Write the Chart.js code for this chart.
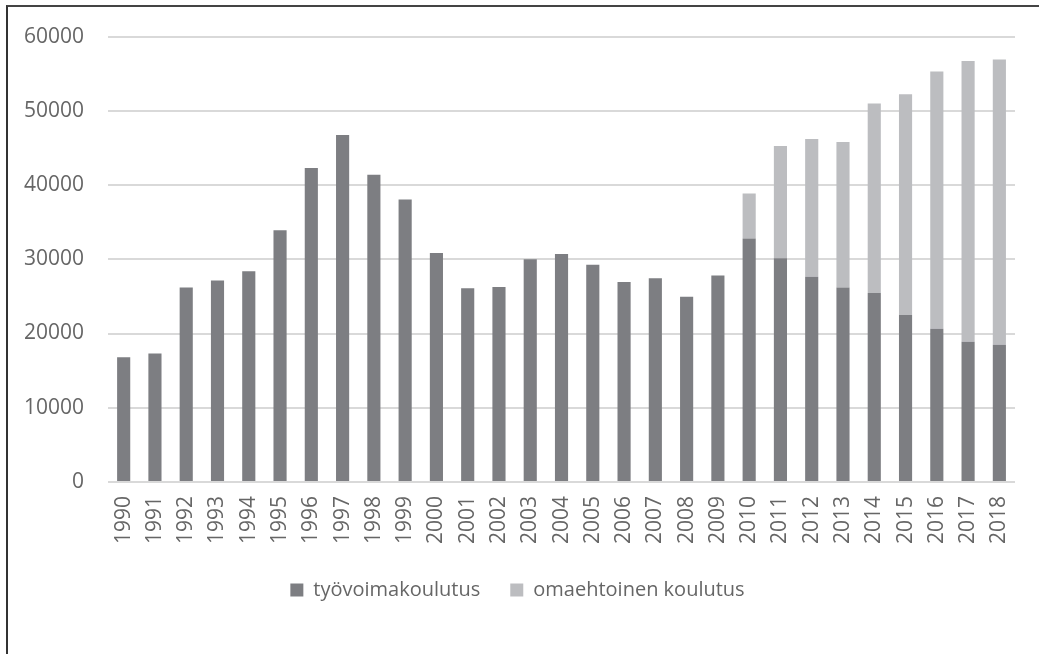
<!DOCTYPE html>
<html>
<head>
<meta charset="utf-8">
<script src="https://cdn.jsdelivr.net/npm/chart.js@4/dist/chart.umd.min.js"></script>
<style>
  body { margin: 0; background: #fff; }
  #frame {
    position: absolute; left: 6px; top: 5px; width: 1033px; height: 649px;
    border-top: 2px solid #444; border-left: 2px solid #333;
  }
  #myChart { position: absolute; left: 0; top: 0; }
</style>
</head>
<body>
<div id="frame"></div>
<canvas id="myChart" width="1039" height="654"></canvas>
<script>
/* vuodet */
const vuodet = ['1990', '1991', '1992', '1993', '1994', '1995', '1996', '1997', '1998', '1999',
  '2000', '2001', '2002', '2003', '2004', '2005', '2006', '2007', '2008', '2009',
  '2010', '2011', '2012', '2013', '2014', '2015', '2016', '2017', '2018'];

const tyovoimakoulutus = [16800, 17300, 26200, 27150, 28400, 33900, 42300, 46750, 41400, 38050,
  30850, 26100, 26250, 30000, 30700, 29250, 26950, 27450, 24950, 27800,
  32800, 30150, 27650, 26200, 25450, 22500, 20650, 18900, 18500];

const omaehtoinen = [null, null, null, null, null, null, null, null, null, null,
  null, null, null, null, null, null, null, null, null, null,
  6050, 15100, 18550, 19600, 25550, 29750, 34650, 37800, 38400];

const yTicks = [0, 10000, 20000, 30000, 40000, 50000, 60000];

const fontti = { family: '"Open Sans", sans-serif', size: 21 };

const data = {
  labels: vuodet,
  datasets: [{
    label: 'työvoimakoulutus',
    data: tyovoimakoulutus,
    backgroundColor: '#7d7e82'
  }, {
    label: 'omaehtoinen koulutus',
    data: omaehtoinen,
    backgroundColor: '#bcbdc0'
  }]
};

const config = {
  type: 'bar',
  data: data,
  options: {
    responsive: false,
    animation: false,
    layout: { padding: { left: 20, right: 24, top: 15, bottom: 44 } },
    datasets: {
      bar: { categoryPercentage: 1, barPercentage: 0.42 }
    },
    scales: {
      x: {
        stacked: true,
        grid: { display: false },
        border: { display: false },
        ticks: {
          color: '#666',
          font: fontti,
          minRotation: 90,
          maxRotation: 90,
          padding: 6
        }
      },
      y: {
        stacked: true,
        min: 0,
        max: 60000,
        afterBuildTicks: (axis) => { axis.ticks = yTicks.map(v => ({ value: v })); },
        afterFit: (axis) => { axis.width -= 20; },
        grid: { color: '#d9d9d9', lineWidth: 2, drawTicks: false },
        border: { display: false },
        ticks: {
          color: '#666',
          font: fontti,
          padding: 24,
          callback: (v) => String(v)
        }
      }
    },
    plugins: {
      tooltip: { enabled: false },
      legend: {
        position: 'bottom',
        labels: {
          color: '#666',
          font: { family: '"Open Sans", sans-serif', size: 20 },
          boxWidth: 13,
          boxHeight: 13,
          padding: 30
        }
      }
    }
  }
};

const myChart = new Chart(
  document.getElementById('myChart'),
  config
);
</script>
</body>
</html>
